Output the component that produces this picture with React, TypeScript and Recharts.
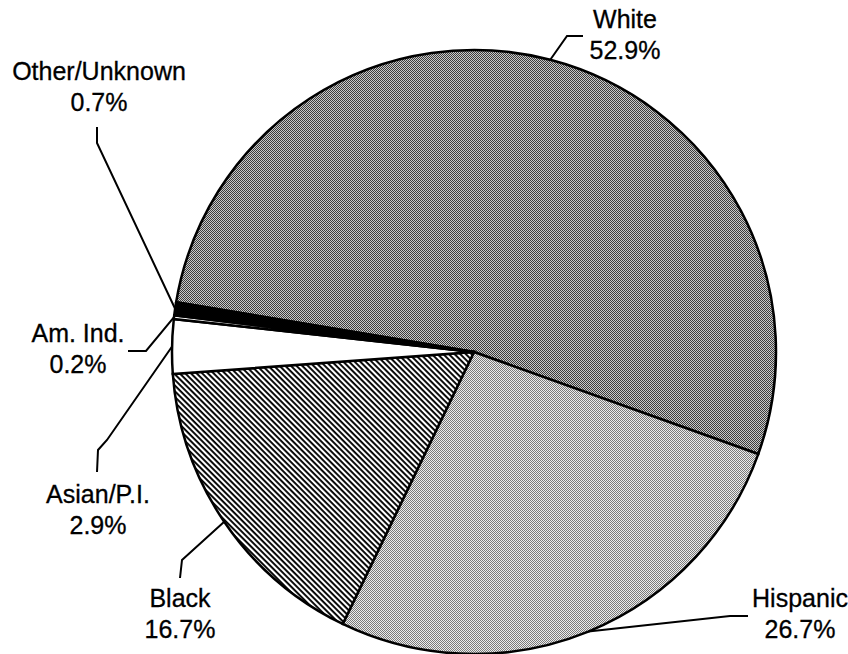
import React from "react";
import { PieChart, Pie, Cell } from "recharts";

const categories = ["White", "Hispanic", "Black", "Asian/P.I.", "Am. Ind.", "Other/Unknown"];
const shares = [52.9, 26.7, 16.7, 2.9, 0.2, 0.7];

const fills = ["url(#whiteDither)", "url(#hispDither)", "url(#blackHatch)", "#ffffff", "#ffffff", "#000000"];

// where each label sits (centre x, first baseline) and the bends of its leader line
const labelLayout = [
  { x: 625, y: 28, bends: [[567, 36], [583, 36]] },
  { x: 800, y: 607, bends: [[730, 616], [748, 616]] },
  { x: 180, y: 607, bends: [[182, 560], [180, 578]] },
  { x: 98, y: 503, bends: [[107, 440], [98, 450], [97, 472]] },
  { x: 78, y: 342, bends: [[146, 351], [128, 351]] },
  { x: 99, y: 80, bends: [[97, 143], [97, 127]] },
];

const data = categories.map((name, i) => ({ name, value: shares[i] }));

const RAD = Math.PI / 180;

function renderLabel(props: any) {
  const { cx, cy, midAngle, outerRadius, index, value } = props;
  const lay = labelLayout[index];
  const ax = cx + outerRadius * Math.cos(-midAngle * RAD);
  const ay = cy + outerRadius * Math.sin(-midAngle * RAD);
  const pts = [[ax, ay], ...lay.bends].map((p) => p.join(",")).join(" ");
  return (
    <g>
      <polyline points={pts} fill="none" stroke="#000" strokeWidth={2} />
      <text
        x={lay.x}
        y={lay.y}
        textAnchor="middle"
        fontFamily="'Liberation Sans', Arial, sans-serif"
        fontSize={25}
        fill="#000"
        stroke="#000"
        strokeWidth={0.3}
      >
        <tspan x={lay.x}>{categories[index]}</tspan>
        <tspan x={lay.x} dy={31}>{value.toFixed(1)}%</tspan>
      </text>
    </g>
  );
}

export default function App() {
  return (
    <div style={{ position: "absolute", left: 0, top: 0, width: 848, height: 654, background: "#fff" }}>
      <svg width={0} height={0} style={{ position: "absolute" }}>
        <defs>
          <pattern id="whiteDither" width={2} height={2} patternUnits="userSpaceOnUse">
            <rect width={2} height={2} fill="#c8c8c8" />
            <rect width={1} height={1} fill="#3c3c3c" />
            <rect x={1} y={1} width={1} height={1} fill="#3c3c3c" />
          </pattern>
          <pattern id="hispDither" width={2} height={2} patternUnits="userSpaceOnUse">
            <rect width={2} height={2} fill="#ececec" />
            <rect width={1} height={1} fill="#7a7a7a" />
            <rect x={1} y={1} width={1} height={1} fill="#7a7a7a" />
          </pattern>
          <pattern id="blackHatch" width={4} height={4} patternUnits="userSpaceOnUse" patternTransform="rotate(45)">
            <rect width={4} height={4} fill="#fff" />
            <rect width={4} height={1.9} fill="#000" />
          </pattern>
        </defs>
      </svg>
      <PieChart width={848} height={654} margin={{ top: 0, right: 0, bottom: 0, left: 0 }}>
        <Pie
          data={data}
          dataKey="value"
          nameKey="name"
          cx={474}
          cy={352}
          outerRadius={302}
          startAngle={170.5}
          endAngle={-189.5}
          stroke="#000"
          strokeWidth={2.5}
          label={renderLabel}
          labelLine={false}
          isAnimationActive={false}
        >
          {data.map((d, i) => (
            <Cell key={d.name} fill={fills[i]} stroke="#000" strokeWidth={2.5} />
          ))}
        </Pie>
      </PieChart>
    </div>
  );
}
